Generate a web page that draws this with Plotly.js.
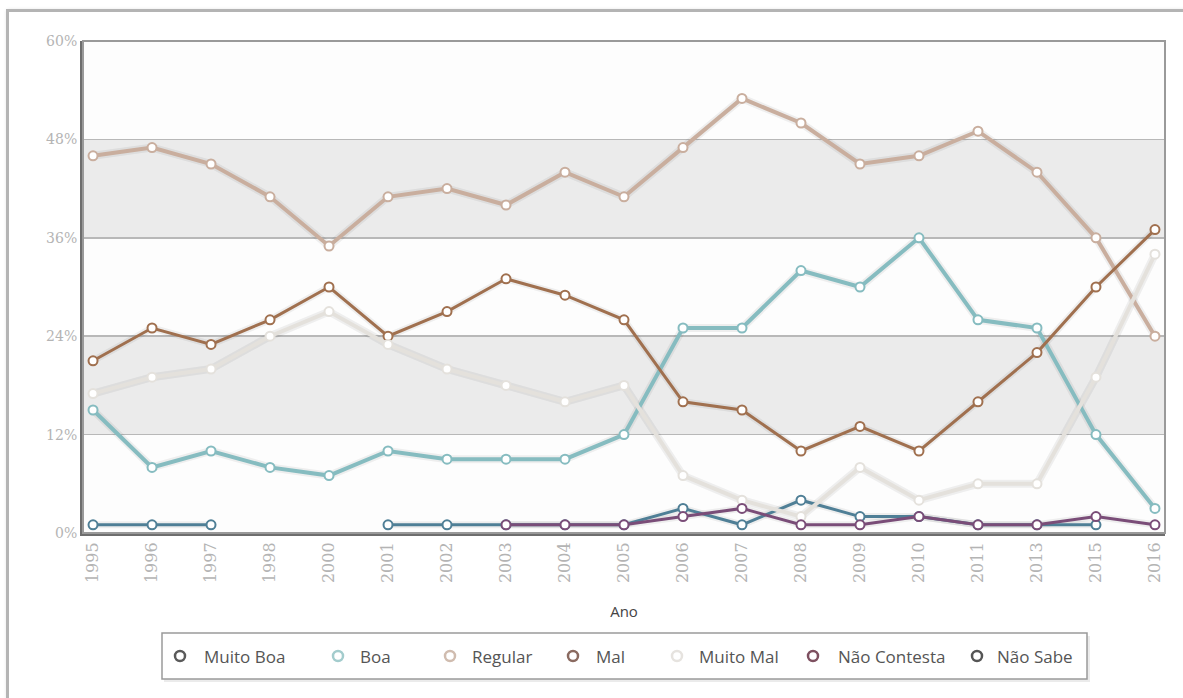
<!DOCTYPE html>
<html>
<head>
<meta charset="utf-8">
<script src="https://cdn.plot.ly/plotly-3.0.1.min.js"></script>
<style>
  html, body { margin: 0; padding: 0; background: #ffffff; }
  #frame {
    position: absolute; left: 6px; top: 9px; width: 1200px; height: 720px;
    border: 3px solid #b4b4b4; box-shadow: 1px 1px 4px rgba(0,0,0,0.15);
    background: #ffffff;
  }
  #chart { position: absolute; left: 0; top: 0; width: 1183px; height: 698px; }
</style>
</head>
<body>
<div id="frame"></div>
<div id="chart"></div>
<script>
// Survey years (categorical axis)
const years = ['1995','1996','1997','1998','2000','2001','2002','2003','2004','2005',
               '2006','2007','2008','2009','2010','2011','2013','2015','2016'];

// Percentages per answer
const muitoBoa    = [1, 1, 1, null, null, 1, 1, 1, 1, 1, 3, 1, 4, 2, 2, 1, 1, 1, null];
const boa         = [15, 8, 10, 8, 7, 10, 9, 9, 9, 12, 25, 25, 32, 30, 36, 26, 25, 12, 3];
const regular     = [46, 47, 45, 41, 35, 41, 42, 40, 44, 41, 47, 53, 50, 45, 46, 49, 44, 36, 24];
const mal         = [21, 25, 23, 26, 30, 24, 27, 31, 29, 26, 16, 15, 10, 13, 10, 16, 22, 30, 37];
const muitoMal    = [17, 19, 20, 24, 27, 23, 20, 18, 16, 18, 7, 4, 2, 8, 4, 6, 6, 19, 34];
const naoContesta = [null, null, null, null, null, null, null, 1, 1, 1, 2, 3, 1, 1, 2, 1, 1, 2, 1];
const naoSabe     = [];

const yTicks = [0, 12, 24, 36, 48, 60];
const yTickText = ['0%', '12%', '24%', '36%', '48%', '60%'];

// key: pixel x of the legend symbol and of its label
const series = [
  { name: 'Muito Boa',    y: muitoBoa,    color: '#4f7f96', legend: '#5a5a5a', width: 3, key: 180, label: 202 },
  { name: 'Boa',          y: boa,         color: '#86bcc0', legend: '#a3cccd', width: 4, key: 338, label: 358 },
  { name: 'Regular',      y: regular,     color: '#c9ae9e', legend: '#d0bcaf', width: 4, key: 450, label: 470 },
  { name: 'Mal',          y: mal,         color: '#a0704f', legend: '#8a6a60', width: 3, key: 573, label: 594 },
  { name: 'Muito Mal',    y: muitoMal,    color: '#e4e1dc', legend: '#e6e3df', width: 4, key: 677, label: 697 },
  { name: 'Não Contesta', y: naoContesta, color: '#7a4d78', legend: '#7e5060', width: 3, key: 813, label: 836 },
  { name: 'Não Sabe',     y: naoSabe,     color: '#505050', legend: '#555555', width: 3, key: 977, label: 995 }
];

const traces = [];
// soft shadow under each line
series.forEach(s => {
  if (!s.y.length) return;
  traces.push({
    x: years, y: s.y, type: 'scatter', mode: 'lines', showlegend: false,
    hoverinfo: 'skip', line: { color: 'rgba(0,0,0,0.06)', width: s.width + 4 },
    connectgaps: false
  });
});
series.forEach(s => {
  if (!s.y.length) return;
  traces.push({
    x: years, y: s.y, type: 'scatter', mode: 'lines+markers', name: s.name,
    showlegend: false, connectgaps: false,
    line: { color: s.color, width: s.width },
    marker: { symbol: 'circle', size: 9, color: '#ffffff', line: { color: s.color, width: 2 } }
  });
});

// plot area in pixels: 83..1165 x 41..533
const PW = 1082, PH = 492;
const px = v => (v - 83) / PW;
const py = v => (533 - v) / PH;

// alternating horizontal bands
const shapes = [];
for (let i = 0; i < yTicks.length - 1; i++) {
  if (i % 2 === 1) {
    shapes.push({
      type: 'rect', xref: 'paper', yref: 'y', x0: 0, x1: 1, y0: yTicks[i], y1: yTicks[i + 1],
      fillcolor: '#ebebeb', line: { width: 0 }, layer: 'below'
    });
  }
}
// top/right plot border
shapes.push({
  type: 'rect', xref: 'paper', yref: 'paper', x0: 0, x1: 1, y0: 0, y1: 1,
  fillcolor: 'rgba(0,0,0,0)', line: { color: '#9a9a9a', width: 2 }, layer: 'above'
});
// legend box with a soft drop shadow
shapes.push({
  type: 'rect', xref: 'paper', yref: 'paper',
  x0: px(164), x1: px(1090), y0: py(682), y1: py(636),
  fillcolor: 'rgba(0,0,0,0.08)', line: { width: 0 }
});
shapes.push({
  type: 'rect', xref: 'paper', yref: 'paper',
  x0: px(162), x1: px(1087), y0: py(679), y1: py(633),
  fillcolor: '#ffffff', line: { color: '#9a9a9a', width: 1.5 }
});

// legend keys and labels
const annotations = [];
const LY = 656, R = 5;
series.forEach(s => {
  shapes.push({
    type: 'circle', xref: 'paper', yref: 'paper',
    x0: px(s.key - R), x1: px(s.key + R), y0: py(LY + R), y1: py(LY - R),
    fillcolor: '#ffffff', line: { color: s.legend, width: 2.5 }
  });
  annotations.push({
    xref: 'paper', yref: 'paper', x: px(s.label), y: py(LY),
    xanchor: 'left', yanchor: 'middle', showarrow: false, text: s.name,
    font: { family: 'Open Sans, sans-serif', size: 17, color: '#555' }
  });
});

const layout = {
  width: 1183, height: 698,
  paper_bgcolor: 'rgba(0,0,0,0)', plot_bgcolor: '#fdfdfd',
  margin: { l: 83, r: 18, t: 41, b: 165 },
  font: { family: 'Open Sans, sans-serif', color: '#555' },
  shapes: shapes,
  annotations: annotations,
  showlegend: false,
  xaxis: {
    type: 'category', range: [-0.17, 18.17], tickangle: -90,
    showgrid: false, zeroline: false,
    showline: true, linecolor: '#6e6e6e', linewidth: 3,
    ticks: '', ticklen: 0,
    tickfont: { family: 'DejaVu Serif, serif', size: 16, color: '#b4b4b4' },
    title: { text: 'Ano', font: { family: 'Open Sans, sans-serif', size: 15, color: '#444' }, standoff: 25 }
  },
  yaxis: {
    range: [0, 60], tickvals: yTicks, ticktext: yTickText,
    showgrid: true, gridcolor: '#b8b8b8', gridwidth: 1.5, zeroline: false,
    showline: true, linecolor: '#6e6e6e', linewidth: 3,
    ticks: '', tickfont: { family: 'DejaVu Serif, serif', size: 14, color: '#b4b4b4' }
  }
};

Plotly.newPlot('chart', traces, layout, { displayModeBar: false, staticPlot: true });
</script>
</body>
</html>
